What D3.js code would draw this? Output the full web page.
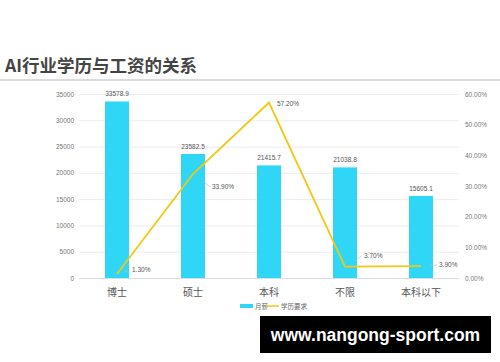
<!DOCTYPE html>
<html><head><meta charset="utf-8">
<script src="https://cdn.jsdelivr.net/npm/d3@7"></script>
<style>body{margin:0;background:#fff;}svg{display:block;font-family:"Noto Sans CJK SC","Noto Sans",sans-serif;}</style>
</head><body>
<svg id="c" width="500" height="362"></svg>
<script>
const categories = ["博士","硕士","本科","不限","本科以下"];
const salary = [33578.9, 23582.5, 21415.7, 21038.8, 15605.1];
const eduReq = [1.3, 33.9, 57.2, 3.7, 3.9];
const salaryLabels = ["33578.9","23582.5","21415.7","21038.8","15605.1"];
const reqLabels = ["1.30%","33.90%","57.20%","3.70%","3.90%"];
const leftTicks = [0,5000,10000,15000,20000,25000,30000,35000];
const rightTicks = [0,10,20,30,40,50,60];

const svg = d3.select("#c");
// title
svg.append("text").attr("x",5).attr("y",72).attr("font-size",17.5).attr("font-weight","bold")
  .attr("fill","#444").text("AI行业学历与工资的关系");
svg.append("line").attr("x1",0).attr("x2",500).attr("y1",80).attr("y2",80)
  .attr("stroke","#cfcfcf").attr("stroke-width",1.5);

const x = d3.scaleBand().domain(categories).range([79,459]).paddingInner(0.68).paddingOuter(0.34);
const yL = d3.scaleLinear().domain([0,35000]).range([278,94]);
const yR = d3.scaleLinear().domain([0,60]).range([278,94]);

// grid
svg.append("g").selectAll("line").data(leftTicks).join("line")
  .attr("x1",79).attr("x2",459).attr("y1",d=>yL(d)+0.5).attr("y2",d=>yL(d)+0.5)
  .attr("stroke","#ececec").attr("stroke-width",1);

// left axis
const gl = svg.append("g").attr("transform","translate(79,0)")
  .call(d3.axisLeft(yL).tickValues(leftTicks).tickSize(0).tickPadding(5).tickFormat(d3.format("d")));
gl.select(".domain").remove();
gl.selectAll("text").attr("font-size",6.5).attr("fill","#777").attr("font-family","Liberation Sans,Arial,sans-serif");

// right axis
const gr = svg.append("g").attr("transform","translate(459,0)")
  .call(d3.axisRight(yR).tickValues(rightTicks).tickSize(0).tickPadding(6).tickFormat(d=>d.toFixed(2)+"%"));
gr.select(".domain").remove();
gr.selectAll("text").attr("font-size",6.5).attr("fill","#777").attr("font-family","Liberation Sans,Arial,sans-serif");

// bars
const bw = 24;
const cx = d => x(d) + x.bandwidth()/2;
svg.append("g").selectAll("rect").data(categories).join("rect")
  .attr("x",d=>cx(d)-bw/2).attr("width",bw)
  .attr("y",(d,i)=>yL(salary[i])).attr("height",(d,i)=>yL(0)-yL(salary[i]))
  .attr("fill","#2fd6f6");
svg.append("g").selectAll("text").data(categories).join("text")
  .attr("x",d=>cx(d)).attr("y",(d,i)=>yL(salary[i])-5).attr("text-anchor","middle")
  .attr("font-size",6.5).attr("fill","#555").attr("font-family","Liberation Sans,Arial,sans-serif")
  .text((d,i)=>salaryLabels[i]);

// bottom baseline
svg.append("line").attr("x1",79).attr("x2",459).attr("y1",278.5).attr("y2",278.5).attr("stroke","#ddd");

// category labels
svg.append("g").selectAll("text").data(categories).join("text")
  .attr("x",d=>cx(d)).attr("y",296).attr("text-anchor","middle")
  .attr("font-size",10).attr("fill","#555").text(d=>d);

// line
const line = d3.line().x((d,i)=>cx(categories[i])).y(d=>yR(d));
svg.append("path").datum(eduReq).attr("d",line).attr("fill","none")
  .attr("stroke","#f3c712").attr("stroke-width",1.8);

// line labels with leader lines (offsets in px)
const lblOff = [[14,-4],[18,13],[7,1],[18,-11],[17,-1]];
const g2 = svg.append("g");
eduReq.forEach((v,i)=>{
  const px = cx(categories[i]), py = yR(v);
  const [dx,dy] = lblOff[i];
  if(i!==2){
    g2.append("line").attr("x1",px+ (dx>0?dx*0.55:0)).attr("y1",py+dy*0.55).attr("x2",px+dx-1).attr("y2",py+dy)
      .attr("stroke","#bbb").attr("stroke-width",0.7);
  }
  g2.append("text").attr("x",px+dx+1).attr("y",py+dy+2.3).attr("font-size",6.5).attr("fill","#555")
    .attr("font-family","Liberation Sans,Arial,sans-serif").text(reqLabels[i]);
});

// legend
const lg = svg.append("g");
lg.append("rect").attr("x",240).attr("y",304).attr("width",13).attr("height",4).attr("fill","#2fd6f6");
lg.append("text").attr("x",255).attr("y",309).attr("font-size",6.5).attr("fill","#666").text("月薪");
lg.append("line").attr("x1",266).attr("x2",279).attr("y1",306).attr("y2",306).attr("stroke","#f3c712").attr("stroke-width",1.5);
lg.append("text").attr("x",281).attr("y",309).attr("font-size",6.5).attr("fill","#666").text("学历要求");

// watermark
svg.append("rect").attr("x",260).attr("y",316).attr("width",231).attr("height",37).attr("fill","#000");
svg.append("text").attr("x",375.5).attr("y",341).attr("text-anchor","middle").attr("font-size",17.5)
  .attr("font-weight","bold").attr("fill","#fff").attr("font-family","Liberation Sans,Arial,sans-serif")
  .text("www.nangong-sport.com");
</script>
</body></html>
